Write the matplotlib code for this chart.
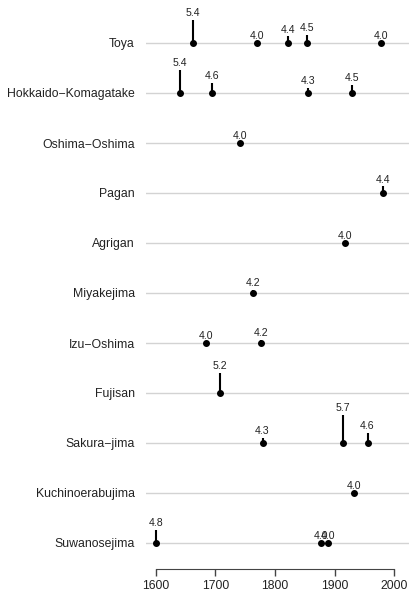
import matplotlib
matplotlib.use("Agg")
import matplotlib.pyplot as plt

plt.rcParams['font.family'] = ['Liberation Sans', 'DejaVu Sans']

# volcanoes, bottom to top
volcanoes = ['Suwanosejima', 'Kuchinoerabujima', 'Sakura\u2212jima', 'Fujisan',
             'Izu\u2212Oshima', 'Miyakejima', 'Agrigan', 'Pagan',
             'Oshima\u2212Oshima', 'Hokkaido\u2212Komagatake', 'Toya']

# eruptions: (volcano index, year, magnitude)
erupt_volcano = [0, 0, 0, 1, 2, 2, 2, 3, 4, 4, 5, 6, 7, 8,
                 9, 9, 9, 9, 10, 10, 10, 10, 10]
erupt_year = [1600, 1877, 1889, 1933, 1779, 1914, 1955, 1707, 1684, 1777,
              1763, 1917, 1981, 1741, 1640, 1694, 1856, 1929,
              1663, 1769, 1822, 1853, 1977]
erupt_mag = [4.8, 4.0, 4.0, 4.0, 4.3, 5.7, 4.6, 5.2, 4.0, 4.2,
             4.2, 4.0, 4.4, 4.0, 5.4, 4.6, 4.3, 4.5,
             5.4, 4.0, 4.4, 4.5, 4.0]

fig = plt.figure(figsize=(4.10, 5.95), dpi=100)
ax = fig.add_axes([146 / 410, 26 / 595, 264 / 410, 569 / 595])

rows = list(range(1, len(volcanoes) + 1))
for r in rows:
    ax.axhline(r, color='#d3d3d3', lw=1.0, zorder=1)

for v, yr, m in zip(erupt_volcano, erupt_year, erupt_mag):
    base = v + 1
    top = base + (m - 4.0) / 3.0
    ax.plot([yr, yr], [base, top], color='black', lw=1.5, zorder=2,
            solid_capstyle='butt')
    ax.plot(yr, base, 'o', color='black', ms=4.0, zorder=3)
    ax.annotate(f'{m:.1f}', (yr, top), xytext=(0, 1.2), textcoords='offset points',
                ha='center', va='bottom', fontsize=7.6, color='#222222')

ax.set_xlim(1583.7, 2026.2)
ax.set_ylim(0.48, 11.86)

ax.set_yticks(rows)
ax.set_yticklabels(volcanoes, fontsize=8.8, color='#222222')
ax.tick_params(axis='y', length=0, pad=8)

ax.set_xticks([1600, 1700, 1800, 1900, 2000])
ax.tick_params(axis='x', length=5, width=1, color='#444444', labelsize=8.8,
               labelcolor='#222222', pad=3)

for s in ['top', 'right', 'left']:
    ax.spines[s].set_visible(False)
ax.spines['bottom'].set_bounds(1600, 2000)
ax.spines['bottom'].set_color('#444444')
ax.patch.set_alpha(0)

fig.savefig('out.png', dpi=100)
